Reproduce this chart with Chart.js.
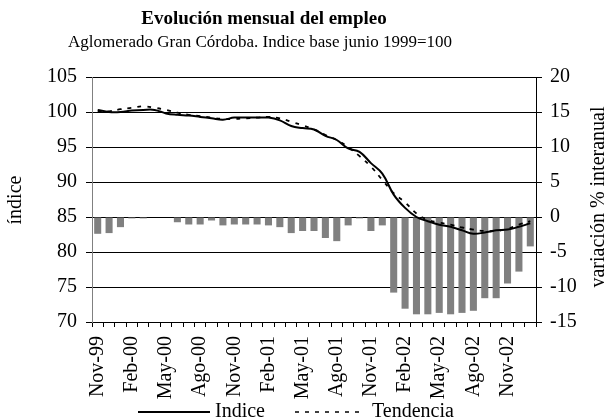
<!DOCTYPE html>
<html>
<head>
<meta charset="utf-8">
<script src="https://cdn.jsdelivr.net/npm/chart.js@4.4.1/dist/chart.umd.min.js"></script>
<style>
  html, body { margin: 0; padding: 0; background: #fff; }
  canvas { display: block; }
</style>
</head>
<body>
<canvas id="empleoChart" width="608" height="419"></canvas>
<script>
// Months Nov-99 .. Ene-03
const meses = [
  'Nov-99', 'Dic-99',
  'Ene-00', 'Feb-00', 'Mar-00', 'Abr-00', 'May-00', 'Jun-00', 'Jul-00', 'Ago-00', 'Sep-00', 'Oct-00', 'Nov-00', 'Dic-00',
  'Ene-01', 'Feb-01', 'Mar-01', 'Abr-01', 'May-01', 'Jun-01', 'Jul-01', 'Ago-01', 'Sep-01', 'Oct-01', 'Nov-01', 'Dic-01',
  'Ene-02', 'Feb-02', 'Mar-02', 'Abr-02', 'May-02', 'Jun-02', 'Jul-02', 'Ago-02', 'Sep-02', 'Oct-02', 'Nov-02', 'Dic-02',
  'Ene-03'
];

// Indice (left axis)
const indice = [
  100.3, 100.0, 100.0, 100.2, 100.3, 100.3, 99.8, 99.6, 99.5, 99.3,
  99.1, 98.9, 99.2, 99.2, 99.2, 99.2, 98.8, 98.0, 97.7, 97.5,
  96.6, 96.0, 94.8, 94.3, 92.7, 91.2, 88.2, 86.3, 85.0, 84.4,
  83.9, 83.6, 83.1, 82.6, 82.8, 83.1, 83.2, 83.6, 84.1
];

// Tendencia (left axis)
const tendencia = [
  100.0, 100.1, 100.4, 100.6, 100.8, 100.6, 100.3, 99.9, 99.6, 99.4,
  99.2, 99.0, 99.0, 99.1, 99.2, 99.3, 99.1, 98.6, 98.1, 97.5,
  96.7, 96.0, 95.0, 93.7, 92.2, 90.3, 88.4, 87.1, 85.5, 84.6,
  84.2, 83.9, 83.5, 83.2, 83.0, 83.0, 83.3, 83.9, 84.4
];

// variacion % interanual (right axis, bars)
const variacion = [
  -2.4, -2.3, -1.45, -0.2, -0.2, 0, 0, -0.75, -1.07, -1.07,
  -0.5, -1.2, -1.07, -1.07, -1.07, -1.2, -1.45, -2.3, -2.0, -2.0,
  -3.0, -3.45, -1.2, -0.2, -2.0, -1.2, -10.8, -13.1, -13.9, -13.9,
  -13.7, -13.9, -13.7, -13.4, -11.6, -11.6, -9.5, -7.8, -4.2
];

const ticksIzq = [70, 105, 5];   // min, max, step
const ticksDer = [-15, 20, 5];

const serif = "'Liberation Serif', 'Times New Roman', serif";

// titles, axis titles and legend drawn by hand
const textosPlugin = {
  id: 'textos',
  afterDraw: (chart) => {
    const { ctx } = chart;
    ctx.save();
    ctx.fillStyle = '#000';
    ctx.textAlign = 'center';
    ctx.textBaseline = 'middle';
    ctx.font = 'bold 19px ' + serif;
    ctx.fillText('Evolución mensual del empleo', 264, 19);
    ctx.font = '17px ' + serif;
    ctx.fillText('Aglomerado Gran Córdoba. Indice base junio 1999=100', 260, 43);

    // axis titles
    ctx.font = '20px ' + serif;
    ctx.save();
    ctx.translate(16, 200);
    ctx.rotate(-Math.PI / 2);
    ctx.fillText('índice', 0, 0);
    ctx.restore();
    ctx.save();
    ctx.translate(599, 197);
    ctx.rotate(-Math.PI / 2);
    ctx.fillText('variación % interanual', 0, 0);
    ctx.restore();

    // legend
    const ly = 412;
    ctx.strokeStyle = '#000';
    ctx.lineWidth = 2;
    ctx.beginPath();
    ctx.moveTo(138, ly);
    ctx.lineTo(210, ly);
    ctx.stroke();
    ctx.lineWidth = 1.5;
    ctx.setLineDash([4, 6]);
    ctx.beginPath();
    ctx.moveTo(295, ly);
    ctx.lineTo(365, ly);
    ctx.stroke();
    ctx.setLineDash([]);
    ctx.textAlign = 'left';
    ctx.fillText('Indice', 215, ly);
    ctx.fillText('Tendencia', 372, ly);
    ctx.restore();
  }
};

var ctx = document.getElementById('empleoChart').getContext('2d');
var empleoChart = new Chart(ctx, {
  data: {
    labels: meses,
    datasets: [
      {
        type: 'line',
        label: 'Indice',
        data: indice,
        yAxisID: 'y',
        borderColor: '#000',
        borderWidth: 2,
        pointRadius: 0,
        tension: 0.4,
        order: 1
      },
      {
        type: 'line',
        label: 'Tendencia',
        data: tendencia,
        yAxisID: 'y',
        borderColor: '#000',
        borderWidth: 1.8,
        borderDash: [4, 6],
        pointRadius: 0,
        tension: 0.4,
        order: 2
      },
      {
        type: 'bar',
        label: 'variación % interanual',
        data: variacion,
        yAxisID: 'y2',
        backgroundColor: '#808080',
        borderWidth: 0,
        barPercentage: 0.62,
        categoryPercentage: 1.0,
        order: 3
      }
    ]
  },
  options: {
    responsive: false,
    animation: false,
    layout: {
      padding: { top: 77, left: 0, right: 0, bottom: 0 }
    },
    scales: {
      x: {
        offset: true,
        grid: {
          offset: true,
          drawOnChartArea: false,
          color: '#000',
          tickLength: 5
        },
        border: { color: '#000' },
        ticks: {
          autoSkip: false,
          minRotation: 90,
          maxRotation: 90,
          padding: 9,
          color: '#000',
          font: { size: 20, family: serif },
          callback: function(val, i) {
            return i % 3 === 0 ? meses[i] : '';
          }
        },
        afterFit: function(scale) { scale.height = 97; }
      },
      y: {
        position: 'left',
        min: ticksIzq[0],
        max: ticksIzq[1],
        grid: {
          color: '#000',
          tickLength: 6
        },
        border: { color: '#808080' },
        ticks: {
          stepSize: ticksIzq[2],
          padding: 9,
          color: '#000',
          font: { size: 20, family: serif }
        },
        afterFit: function(scale) { scale.width = 92; }
      },
      y2: {
        position: 'right',
        min: ticksDer[0],
        max: ticksDer[1],
        grid: {
          drawOnChartArea: false,
          color: '#000',
          tickLength: 6
        },
        border: { color: '#000' },
        ticks: {
          stepSize: ticksDer[2],
          padding: 8,
          color: '#000',
          font: { size: 20, family: serif }
        },
        afterFit: function(scale) { scale.width = 72; }
      }
    },
    plugins: {
      legend: { display: false },
      title: { display: false },
      tooltip: { enabled: false }
    }
  },
  plugins: [textosPlugin]
});
</script>
</body>
</html>
